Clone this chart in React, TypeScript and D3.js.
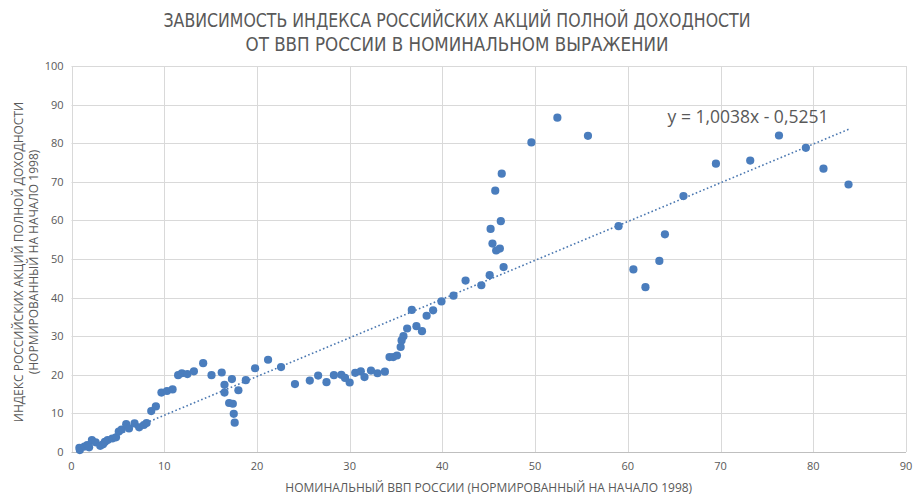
import React, { useEffect, useRef } from "react";
import * as d3 from "d3";

// nominal GDP (normalized), total-return index (normalized)
const gdp = [
  0.9, 0.85, 1.4, 1.7, 1.9, 2.2, 2.6, 3.1, 3.4, 3.6, 3.9, 4.4, 4.8, 5.1, 5.4, 5.9, 6.2, 6.8, 7.3, 7.8, 8.1,
  8.6, 9.1, 9.7, 10.3, 10.9, 11.5, 11.9, 12.5, 13.2, 14.2, 15.1, 16.2, 16.5, 16.5, 17.3, 17.0, 17.4, 17.5,
  17.6, 18.0, 18.8, 19.8, 21.2, 22.6, 24.1, 25.7, 26.6, 27.5, 28.3, 29.1, 29.5, 30.0, 30.6, 31.2, 31.6,
  32.3, 33.0, 33.8, 34.3, 34.7, 35.1, 35.5, 35.6, 35.8, 36.2, 36.7, 37.2, 37.8, 38.3, 39.0, 39.9, 41.2,
  42.5, 44.2, 45.1, 46.6, 46.2, 45.8, 45.4, 45.2, 46.3, 45.7, 46.4, 49.6, 52.4, 55.7, 59.0, 60.6, 61.9,
  63.4, 64.0, 66.0, 69.5, 73.2, 76.3, 79.2, 81.1, 83.8,
];
const index = [
  0.5, 1.1, 1.4, 1.8, 1.2, 3.1, 2.5, 1.6, 2.0, 2.6, 3.1, 3.5, 3.8, 5.3, 5.8, 7.2, 6.1, 7.4, 6.4, 7.0, 7.5,
  10.6, 11.8, 15.4, 15.8, 16.2, 19.9, 20.4, 20.2, 20.9, 23.0, 19.9, 20.6, 17.4, 15.4, 18.9, 12.7, 12.5, 9.9,
  7.6, 16.0, 18.6, 21.7, 23.9, 22.0, 17.6, 18.5, 19.8, 18.1, 19.9, 20.0, 19.2, 18.0, 20.5, 20.9, 19.4,
  21.1, 20.4, 20.8, 24.6, 24.6, 25.0, 27.2, 28.9, 30.0, 32.0, 36.8, 32.6, 31.3, 35.3, 36.7, 39.0, 40.5,
  44.4, 43.2, 45.8, 47.9, 52.7, 52.2, 54.0, 57.8, 59.8, 67.7, 72.1, 80.2, 86.6, 81.9, 58.5, 47.3, 42.7,
  49.5, 56.4, 66.3, 74.7, 75.5, 82.0, 78.8, 73.4, 69.3,
];
const xTicks = [0, 10, 20, 30, 40, 50, 60, 70, 80, 90];
const yTicks = [0, 10, 20, 30, 40, 50, 60, 70, 80, 90, 100];
const slope = 1.0038;
const intercept = -0.5251;

const titleLines = [
  "ЗАВИСИМОСТЬ ИНДЕКСА РОССИЙСКИХ АКЦИЙ ПОЛНОЙ ДОХОДНОСТИ",
  "ОТ ВВП РОССИИ В НОМИНАЛЬНОМ ВЫРАЖЕНИИ",
];
const xTitle = "НОМИНАЛЬНЫЙ ВВП РОССИИ (НОРМИРОВАННЫЙ НА НАЧАЛО 1998)";
const yTitleLines = ["ИНДЕКС РОССИЙСКИХ АКЦИЙ ПОЛНОЙ ДОХОДНОСТИ", "(НОРМИРОВАННЫЙ НА НАЧАЛО 1998)"];
const eqLabel = "y = 1,0038x - 0,5251";

const W = 915;
const H = 503;
const textColor = "#595959";
const dotColor = "#4a7dbd";
const font = "'Open Sans', sans-serif";

export default function App() {
  const ref = useRef<SVGSVGElement>(null);

  useEffect(() => {
    const svg = d3.select(ref.current);
    svg.selectAll("*").remove();

    const left = 71.5,
      right = 906,
      top = 66,
      bottom = 452;

    const x = d3.scaleLinear().domain([0, 90]).range([left, right]);
    const y = d3.scaleLinear().domain([0, 100]).range([bottom, top]);

    svg.append("rect").attr("width", W).attr("height", H).attr("fill", "#fff");

    // grid
    svg
      .append("g")
      .selectAll("line")
      .data(yTicks)
      .join("line")
      .attr("x1", left)
      .attr("x2", right)
      .attr("y1", (d) => Math.round(y(d)) + 0.5)
      .attr("y2", (d) => Math.round(y(d)) + 0.5)
      .attr("stroke", (d) => (d === 0 ? "#bfbfbf" : "#d9d9d9"));

    svg
      .append("g")
      .selectAll("line")
      .data(xTicks)
      .join("line")
      .attr("x1", (d) => Math.round(x(d)) + 0.5)
      .attr("x2", (d) => Math.round(x(d)) + 0.5)
      .attr("y1", top)
      .attr("y2", bottom)
      .attr("stroke", "#d9d9d9");

    // tick labels
    svg
      .append("g")
      .selectAll("text")
      .data(xTicks)
      .join("text")
      .attr("x", (d) => x(d))
      .attr("y", bottom + 18)
      .attr("text-anchor", "middle")
      .attr("font-size", 11)
      .attr("font-family", font)
      .attr("fill", textColor)
      .text((d) => d);

    svg
      .append("g")
      .selectAll("text")
      .data(yTicks)
      .join("text")
      .attr("x", left - 8)
      .attr("y", (d) => y(d) + 4)
      .attr("text-anchor", "end")
      .attr("font-size", 11)
      .attr("font-family", font)
      .attr("fill", textColor)
      .text((d) => d);

    // trendline
    const xMin = d3.min(gdp) as number;
    const xMax = d3.max(gdp) as number;
    svg
      .append("line")
      .attr("x1", x(xMin))
      .attr("y1", y(slope * xMin + intercept))
      .attr("x2", x(xMax))
      .attr("y2", y(slope * xMax + intercept))
      .attr("stroke", "#4a77b0")
      .attr("stroke-width", 1.6)
      .attr("stroke-dasharray", "1.6 2.4");

    // points
    svg
      .append("g")
      .selectAll("circle")
      .data(gdp.map((g, i) => ({ g, v: index[i] })))
      .join("circle")
      .attr("cx", (d) => x(d.g))
      .attr("cy", (d) => y(d.v))
      .attr("r", 4.1)
      .attr("fill", dotColor);

    // equation
    svg
      .append("text")
      .attr("x", 748)
      .attr("y", 123)
      .attr("text-anchor", "middle")
      .attr("font-size", 17.5)
      .attr("font-family", font)
      .attr("fill", textColor)
      .text(eqLabel);

    // titles
    svg
      .append("g")
      .selectAll("text")
      .data(titleLines)
      .join("text")
      .attr("x", 457)
      .attr("y", (d, i) => 27 + i * 24)
      .attr("text-anchor", "middle")
      .attr("font-size", 20)
      .attr("font-family", "'Liberation Sans Narrow', 'DejaVu Sans Condensed', sans-serif")
      .attr("fill", textColor)
      .attr("textLength", (d, i) => (i === 0 ? 587 : 423))
      .attr("lengthAdjust", "spacingAndGlyphs")
      .text((d) => d);

    svg
      .append("text")
      .attr("x", (left + right) / 2)
      .attr("y", 492)
      .attr("text-anchor", "middle")
      .attr("font-size", 12)
      .attr("font-family", font)
      .attr("fill", textColor)
      .text(xTitle);

    svg
      .append("g")
      .selectAll("text")
      .data(yTitleLines)
      .join("text")
      .attr("transform", (d, i) => `translate(${23 + i * 15}, 262) rotate(-90)`)
      .attr("text-anchor", "middle")
      .attr("font-size", 12)
      .attr("font-family", font)
      .attr("fill", textColor)
      .text((d) => d);
  }, []);

  return (
    <svg
      ref={ref}
      width={W}
      height={H}
      style={{ position: "absolute", left: 0, top: 0, display: "block" }}
    />
  );
}
